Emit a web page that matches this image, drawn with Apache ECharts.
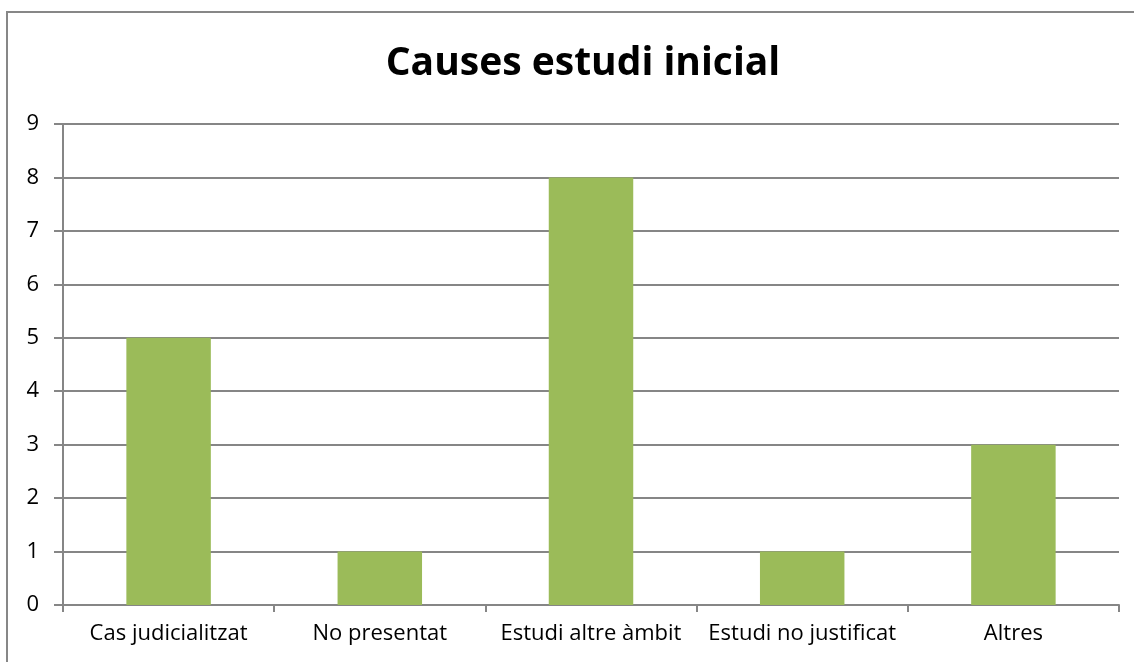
<!DOCTYPE html>
<html><head><meta charset="utf-8">
<script src="https://cdn.jsdelivr.net/npm/echarts@6/dist/echarts.min.js"></script>
<style>html,body{margin:0;padding:0;background:#fff;overflow:hidden}#c{width:1134px;height:662px}</style>
</head><body><div id="c"></div>
<script>
const categories = ['Cas judicialitzat', 'No presentat', 'Estudi altre àmbit', 'Estudi no justificat', 'Altres'];
const values = [5, 1, 8, 1, 3];
const titleText = 'Causes estudi inicial';

const chart = echarts.init(document.getElementById('c'));
const font = 'Open Sans, Liberation Sans, sans-serif';
chart.setOption({
  animation: false,
  backgroundColor: '#fff',
  title: {
    text: titleText, left: 578, top: 39, textAlign: 'center',
    textStyle: { fontFamily: font, fontSize: 39, fontWeight: 'bold', color: '#000' }
  },
  graphic: [
    { type: 'line', shape: { x1: 7, y1: 12, x2: 7, y2: 662 },
      style: { stroke: '#878787', lineWidth: 2 }, silent: true },
    { type: 'line', shape: { x1: 6, y1: 12, x2: 1134, y2: 12 },
      style: { stroke: '#878787', lineWidth: 2 }, silent: true }
  ],
  grid: { left: 63, right: 15, top: 124, bottom: 57 },
  xAxis: {
    type: 'category', data: categories,
    axisLine: { lineStyle: { color: '#868686', width: 2 } },
    axisTick: { show: true, length: 7, alignWithLabel: false, lineStyle: { color: '#868686', width: 2 } },
    axisLabel: { fontFamily: font, fontSize: 22, color: '#000', margin: 18, interval: 0 }
  },
  yAxis: {
    type: 'value', min: 0, max: 9, interval: 1,
    axisLine: { show: true, lineStyle: { color: '#868686', width: 2 } },
    axisTick: { show: true, length: 9, lineStyle: { color: '#868686', width: 2 } },
    splitLine: { lineStyle: { color: '#868686', width: 2 } },
    axisLabel: { fontFamily: font, fontSize: 22, color: '#000', margin: 24 }
  },
  series: [{
    type: 'bar', data: values, barWidth: '40%',
    itemStyle: { color: '#9BBB59' }
  }]
});
</script></body></html>
